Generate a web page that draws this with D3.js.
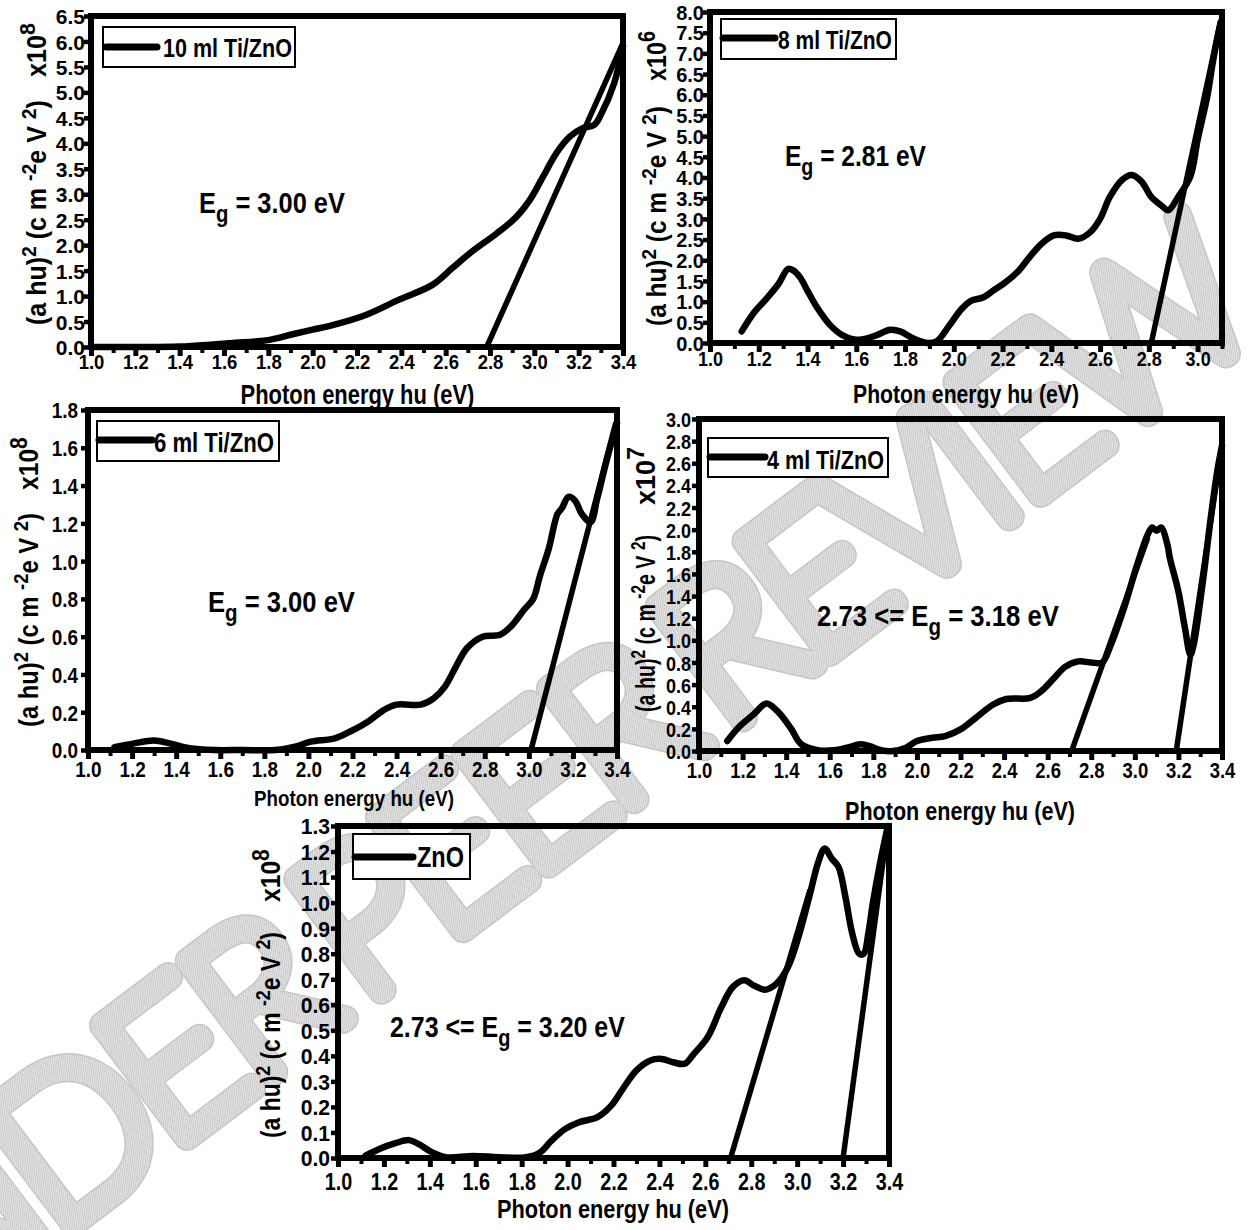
<!DOCTYPE html>
<html>
<head>
<meta charset="utf-8">
<script src="https://cdn.jsdelivr.net/npm/d3@7"></script>
<style>
  html, body { margin: 0; padding: 0; background: #fff; }
  svg { display: block; }
</style>
</head>
<body>
<svg id="fig" width="1254" height="1230"></svg>
<script>
// ---------- Tauc-plot data: (alpha h nu)^2 versus photon energy ----------
// 10 ml Ti/ZnO (x10^8)
const ev10 = [1.00,1.20,1.40,1.55,1.64,1.79,1.91,2.00,2.09,2.24,2.39,2.54,2.63,2.72,2.83,2.92,2.98,3.04,3.10,3.16,3.22,3.27,3.30,3.36,3.40];
const ab10 = [0.00,0.00,0.01,0.05,0.08,0.13,0.25,0.34,0.43,0.63,0.93,1.22,1.55,1.88,2.23,2.56,2.89,3.35,3.81,4.13,4.30,4.36,4.56,5.18,5.92];
// 8 ml Ti/ZnO (x10^6)
const ev8 = [1.13,1.18,1.23,1.28,1.32,1.34,1.37,1.40,1.44,1.49,1.54,1.60,1.67,1.74,1.78,1.83,1.89,1.93,1.98,2.03,2.07,2.12,2.16,2.21,2.26,2.31,2.36,2.41,2.46,2.51,2.56,2.60,2.64,2.69,2.73,2.77,2.81,2.85,2.88,2.92,2.97,3.00,3.04,3.06,3.08,3.095];
const ab8 = [0.28,0.73,1.06,1.42,1.79,1.76,1.58,1.26,0.85,0.45,0.20,0.08,0.16,0.32,0.28,0.12,0.00,0.04,0.41,0.81,1.02,1.10,1.26,1.46,1.71,2.07,2.40,2.60,2.60,2.52,2.68,3.00,3.53,3.94,4.06,3.90,3.53,3.33,3.21,3.53,4.02,4.91,5.97,6.70,7.35,7.76];
// 6 ml Ti/ZnO (x10^8)
const ev6 = [1.12,1.21,1.30,1.37,1.46,1.57,1.70,1.85,1.94,2.01,2.12,2.19,2.27,2.34,2.40,2.51,2.57,2.62,2.67,2.72,2.79,2.87,2.92,2.98,3.02,3.05,3.09,3.13,3.15,3.18,3.21,3.24,3.28,3.31,3.35,3.38,3.40];
const ab6 = [0.015,0.035,0.05,0.035,0.01,0.0,0.0,0.0,0.018,0.044,0.062,0.098,0.15,0.21,0.24,0.24,0.275,0.337,0.443,0.54,0.60,0.61,0.656,0.745,0.80,0.92,1.064,1.25,1.28,1.34,1.32,1.25,1.206,1.33,1.52,1.65,1.73];
// 4 ml Ti/ZnO (x10^7)
const ev4 = [1.13,1.18,1.25,1.31,1.36,1.42,1.47,1.55,1.62,1.68,1.74,1.78,1.84,1.89,1.95,2.00,2.07,2.13,2.20,2.27,2.35,2.41,2.52,2.57,2.63,2.68,2.74,2.80,2.85,2.89,2.95,3.01,3.06,3.08,3.10,3.12,3.15,3.16,3.20,3.23,3.255,3.27,3.31,3.35,3.38,3.40];
const ab4 = [0.09,0.21,0.33,0.43,0.36,0.21,0.06,0.006,0.006,0.03,0.06,0.045,0.006,0.0,0.03,0.09,0.12,0.135,0.195,0.30,0.42,0.47,0.48,0.54,0.66,0.76,0.81,0.80,0.80,0.96,1.29,1.68,1.96,2.02,1.99,2.02,1.86,1.75,1.44,1.11,0.87,0.96,1.50,2.13,2.55,2.76];
// pure ZnO (x10^8)
const evZnO = [1.12,1.18,1.25,1.31,1.35,1.41,1.47,1.59,1.70,1.82,1.88,1.93,1.99,2.05,2.13,2.19,2.24,2.30,2.36,2.41,2.46,2.51,2.55,2.61,2.67,2.72,2.77,2.81,2.86,2.91,2.96,3.01,3.06,3.09,3.12,3.15,3.18,3.21,3.24,3.27,3.29,3.31,3.33,3.36,3.395];
const abZnO = [0.009,0.035,0.058,0.07,0.055,0.022,0.003,0.008,0.003,0.003,0.022,0.068,0.114,0.14,0.16,0.205,0.27,0.343,0.382,0.388,0.375,0.369,0.408,0.473,0.591,0.67,0.696,0.676,0.659,0.683,0.748,0.879,1.049,1.153,1.212,1.173,1.14,1.023,0.879,0.80,0.80,0.88,1.0,1.15,1.30];

// Linear extrapolations to the energy axis: [E start, E end], [value start, value end]
const fit10E = [2.785, 3.40],  fit10A = [0, 5.97];
const fit8E  = [2.81, 3.095],  fit8A  = [0, 7.8];
const fit6E  = [3.01, 3.395],  fit6A  = [0, 1.735];
const fit4aE = [2.71, 3.06],   fit4aA = [0, 1.93];
const fit4bE = [3.19, 3.40],   fit4bA = [0, 2.76];
const fitZaE = [2.71, 3.056],  fitZaA = [0, 1.05];
const fitZbE = [3.20, 3.395],  fitZbA = [0, 1.30];

// Tick values
const xTicks34 = [1.0,1.2,1.4,1.6,1.8,2.0,2.2,2.4,2.6,2.8,3.0,3.2,3.4];
const xMinor34 = [1.1,1.3,1.5,1.7,1.9,2.1,2.3,2.5,2.7,2.9,3.1,3.3];
const xTicks31 = [1.0,1.2,1.4,1.6,1.8,2.0,2.2,2.4,2.6,2.8,3.0];
const xMinor31 = [1.1,1.3,1.5,1.7,1.9,2.1,2.3,2.5,2.7,2.9,3.1];
const yTicks10 = [0,0.5,1.0,1.5,2.0,2.5,3.0,3.5,4.0,4.5,5.0,5.5,6.0,6.5];
const yTicks8  = [0,0.5,1.0,1.5,2.0,2.5,3.0,3.5,4.0,4.5,5.0,5.5,6.0,6.5,7.0,7.5,8.0];
const yTicks6  = [0,0.2,0.4,0.6,0.8,1.0,1.2,1.4,1.6,1.8];
const yTicks4  = [0,0.2,0.4,0.6,0.8,1.0,1.2,1.4,1.6,1.8,2.0,2.2,2.4,2.6,2.8,3.0];
const yTicksZnO = [0,0.1,0.2,0.3,0.4,0.5,0.6,0.7,0.8,0.9,1.0,1.1,1.2,1.3];

// Texts
const seriesNames = ['10 ml Ti/ZnO', '8 ml Ti/ZnO', '6 ml Ti/ZnO', '4 ml Ti/ZnO', 'ZnO'];
const gapPrefix = ['', '', '', '2.73 <= ', '2.73 <= '];
const gapValue  = [' = 3.00 eV', ' = 2.81 eV', ' = 3.00 eV', ' = 3.18 eV', ' = 3.20 eV'];
const exponents = ['8', '6', '8', '7', '8'];
const xTitle = 'Photon energy hu (eV)';

// ---------- layout ----------
const WIDE = "'Liberation Sans', Arial, Helvetica, sans-serif";
const svg = d3.select('#fig');

// watermark: hatched stroke lettering across the figure
const defs = svg.append('defs');
const pat = defs.append('pattern').attr('id', 'hatch').attr('patternUnits', 'userSpaceOnUse')
  .attr('width', 3).attr('height', 3);
pat.append('rect').attr('width', 3).attr('height', 3).attr('fill', '#e4e4e4');
pat.append('path').attr('d', 'M0,3 L3,0').attr('stroke', '#bdbdbd').attr('stroke-width', 1);

const wm = svg.append('g').attr('transform', 'translate(-165,1403) rotate(-37)');
const wmFont = "Lato, Roboto, 'Liberation Sans Narrow', sans-serif";
[['#c6c6c6', 27], ['url(#hatch)', 24]].forEach(([paint, sw]) => {
  wm.append('text')
    .attr('font-family', wmFont).attr('font-weight', 100).attr('font-size', 201)
    .attr('letter-spacing', -10).attr('word-spacing', -20)
    .attr('fill', paint).attr('stroke', paint).attr('stroke-width', sw)
    .attr('stroke-linejoin', 'round').attr('stroke-linecap', 'round')
    .text('UNDER PEER REVIEW');
});

// helper: text group scaled horizontally to a measured length
function fitted(parent, x, y, rot, anchor, targetW, fontSize, build) {
  const outer = parent.append('g').attr('transform', `translate(${x},${y}) rotate(${rot})`);
  const inner = outer.append('g');
  const t = inner.append('text')
    .attr('text-anchor', anchor)
    .attr('font-family', WIDE)
    .attr('font-weight', 'bold')
    .attr('font-size', fontSize)
    .attr('fill', '#000');
  build(t);
  const w = t.node().getBBox().width;
  inner.attr('transform', `scale(${targetW / w},1)`);
  return t;
}

const panels = [
  { ev: ev10, ab: ab10, fits: [[fit10E, fit10A]],
    left: 91, right: 623, top: 16, bottom: 347, xDomain: [1.0, 3.4], yDomain: [0, 6.5],
    xTicks: xTicks34, xMinor: xMinor34, yTicks: yTicks10,
    xLab: { base: 22, size: 21, sx: 0.88 }, yLab: { gap: 6, size: 21, sx: 1.0 },
    legend: { x: 103, y: 27, w: 192, h: 40, l0: 106, l1: 157, ly: 47, tx: 163, tw: 129, tb: 57, fs: 26 },
    eg: { x: 199, b: 213, w: 146 },
    xt: { c: 357.5, b: 404, w: 234, fs: 27 },
    yt: { bx: 46, y0: 325, len: 225, ex0: 77, elen: 54 } },
  { ev: ev8, ab: ab8, fits: [[fit8E, fit8A]],
    left: 710, right: 1222, top: 12, bottom: 343, xDomain: [1.0, 3.1], yDomain: [0, 8.0],
    xTicks: xTicks31, xMinor: xMinor31, yTicks: yTicks8,
    xLab: { base: 23, size: 21, sx: 0.86 }, yLab: { gap: 6, size: 20, sx: 1.0 },
    legend: { x: 721, y: 19, w: 175, h: 40, l0: 723, l1: 775, ly: 38, tx: 778, tw: 114, tb: 49, fs: 26 },
    eg: { x: 785, b: 166, w: 141 },
    xt: { c: 966, b: 403, w: 226, fs: 26 },
    yt: { bx: 666, y0: 326, len: 220, ex0: 81, elen: 50 } },
  { ev: ev6, ab: ab6, fits: [[fit6E, fit6A]],
    left: 88, right: 617, top: 410, bottom: 750, xDomain: [1.0, 3.4], yDomain: [0, 1.8],
    xTicks: xTicks34, xMinor: xMinor34, yTicks: yTicks6,
    xLab: { base: 27, size: 22, sx: 0.86 }, yLab: { gap: 10, size: 22, sx: 0.86 },
    legend: { x: 97, y: 421, w: 182, h: 40, l0: 99, l1: 152, ly: 440, tx: 154, tw: 120, tb: 452, fs: 27 },
    eg: { x: 208, b: 612, w: 147 },
    xt: { c: 354, b: 806, w: 200, fs: 22 },
    yt: { bx: 38, y0: 727, len: 214, ex0: 490, elen: 53 } },
  { ev: ev4, ab: ab4, fits: [[fit4aE, fit4aA], [fit4bE, fit4bA]],
    left: 699, right: 1222, top: 419, bottom: 751, xDomain: [1.0, 3.4], yDomain: [0, 3.0],
    xTicks: xTicks34, xMinor: xMinor34, yTicks: yTicks4,
    xLab: { base: 27, size: 22, sx: 0.84 }, yLab: { gap: 8, size: 21, sx: 0.86 },
    legend: { x: 708, y: 438, w: 180, h: 39, l0: 710, l1: 765, ly: 457, tx: 767, tw: 117, tb: 469, fs: 25 },
    eg: { x: 817, b: 626, w: 242 },
    xt: { c: 960, b: 820, w: 230, fs: 26 },
    yt: { bx: 655, y0: 712, len: 177, ex0: 505, elen: 58 } },
  { ev: evZnO, ab: abZnO, fits: [[fitZaE, fitZaA], [fitZbE, fitZbA]],
    left: 338, right: 889, top: 826, bottom: 1158, xDomain: [1.0, 3.4], yDomain: [0, 1.3],
    xTicks: xTicks34, xMinor: xMinor34, yTicks: yTicksZnO,
    xLab: { base: 32, size: 23, sx: 0.86 }, yLab: { gap: 8, size: 22, sx: 0.96 },
    legend: { x: 353, y: 834, w: 117, h: 45, l0: 355, l1: 413, ly: 857, tx: 417, tw: 47, tb: 867, fs: 29 },
    eg: { x: 390, b: 1037, w: 235 },
    xt: { c: 613, b: 1218, w: 232, fs: 26 },
    yt: { bx: 280, y0: 1138, len: 206, ex0: 902, elen: 53 } }
];

const fmt = d3.format('.1f');

panels.forEach((p, i) => {
  const x = d3.scaleLinear().domain(p.xDomain).range([p.left, p.right]);
  const y = d3.scaleLinear().domain(p.yDomain).range([p.bottom, p.top]);
  const g = svg.append('g');

  // measured curve
  const pts = p.ev.map((e, k) => [e, p.ab[k]]);
  const smooth = d3.line().x(d => x(d[0])).y(d => y(d[1])).curve(d3.curveCatmullRom.alpha(0.5));
  g.append('path').datum(pts)
    .attr('d', smooth)
    .attr('fill', 'none').attr('stroke', '#000').attr('stroke-width', 6.5)
    .attr('stroke-linejoin', 'round').attr('stroke-linecap', 'round');

  // extrapolation lines
  const straight = d3.line().x(d => x(d[0])).y(d => y(d[1]));
  p.fits.forEach(([E, A]) => {
    g.append('path').datum(E.map((e, k) => [e, A[k]]))
      .attr('d', straight)
      .attr('fill', 'none').attr('stroke', '#000').attr('stroke-width', 5.5)
      .attr('stroke-linecap', 'butt');
  });

  // frame
  g.append('rect')
    .attr('x', p.left).attr('y', p.top)
    .attr('width', p.right - p.left).attr('height', p.bottom - p.top)
    .attr('fill', 'none').attr('stroke', '#000').attr('stroke-width', 6);

  // x axis: major + minor ticks
  const xa = g.append('g').attr('transform', `translate(0,${p.bottom})`)
    .call(d3.axisBottom(x).tickValues(p.xTicks).tickSize(9).tickFormat(fmt));
  xa.select('.domain').remove();
  xa.selectAll('.tick line').attr('stroke-width', 5);
  xa.selectAll('.tick text')
    .attr('y', p.xLab.base).attr('dy', null)
    .attr('font-family', WIDE).attr('font-weight', 'bold').attr('font-size', p.xLab.size)
    .attr('fill', '#000').attr('transform', `scale(${p.xLab.sx},1)`);
  const xm = g.append('g').attr('transform', `translate(0,${p.bottom})`)
    .call(d3.axisBottom(x).tickValues(p.xMinor).tickSize(6).tickFormat(''));
  xm.select('.domain').remove();
  xm.selectAll('.tick line').attr('stroke-width', 4);

  // y axis
  const ya = g.append('g').attr('transform', `translate(${p.left},0)`)
    .call(d3.axisLeft(y).tickValues(p.yTicks).tickSize(7).tickFormat(fmt));
  ya.select('.domain').remove();
  ya.selectAll('.tick line').attr('stroke-width', 4.5);
  ya.selectAll('.tick text')
    .attr('x', -p.yLab.gap / p.yLab.sx).attr('dy', '0.36em')
    .attr('font-family', WIDE).attr('font-weight', 'bold').attr('font-size', p.yLab.size)
    .attr('fill', '#000').attr('transform', `scale(${p.yLab.sx},1)`);

  // legend
  const L = p.legend;
  g.append('rect').attr('x', L.x).attr('y', L.y).attr('width', L.w).attr('height', L.h)
    .attr('fill', '#fff').attr('stroke', '#000').attr('stroke-width', 2);
  g.append('line').attr('x1', L.l0).attr('x2', L.l1).attr('y1', L.ly).attr('y2', L.ly)
    .attr('stroke', '#000').attr('stroke-width', 7).attr('stroke-linecap', 'round');
  fitted(g, L.tx, L.tb, 0, 'start', L.tw, L.fs, t => t.text(seriesNames[i]));

  // band-gap annotation
  fitted(g, p.eg.x, p.eg.b, 0, 'start', p.eg.w, 30, t => {
    t.append('tspan').text(gapPrefix[i] + 'E');
    t.append('tspan').attr('font-size', 24).attr('dy', 9).text('g');
    t.append('tspan').attr('dy', -9).text(gapValue[i]);
  });

  // x title
  fitted(g, p.xt.c, p.xt.b, 0, 'middle', p.xt.w, p.xt.fs, t => t.text(xTitle));

  // y title (rotated)
  const Y = p.yt;
  fitted(g, Y.bx, Y.y0, -90, 'start', Y.len, 27, t => {
    t.append('tspan').text('(a hu)');
    t.append('tspan').attr('font-size', 21).attr('dy', -10).text('2');
    t.append('tspan').attr('dy', 10).text(' (c m ');
    t.append('tspan').attr('font-size', 21).attr('dy', -10).text('-2');
    t.append('tspan').attr('dy', 10).text('e V ');
    t.append('tspan').attr('font-size', 21).attr('dy', -10).text('2');
    t.append('tspan').attr('dy', 10).text(')');
  });
  fitted(g, Y.bx, Y.ex0, -90, 'start', Y.elen, 27, t => {
    t.append('tspan').text('x10');
    t.append('tspan').attr('font-size', 23).attr('dy', -11).text(exponents[i]);
  });
});
</script>
</body>
</html>
